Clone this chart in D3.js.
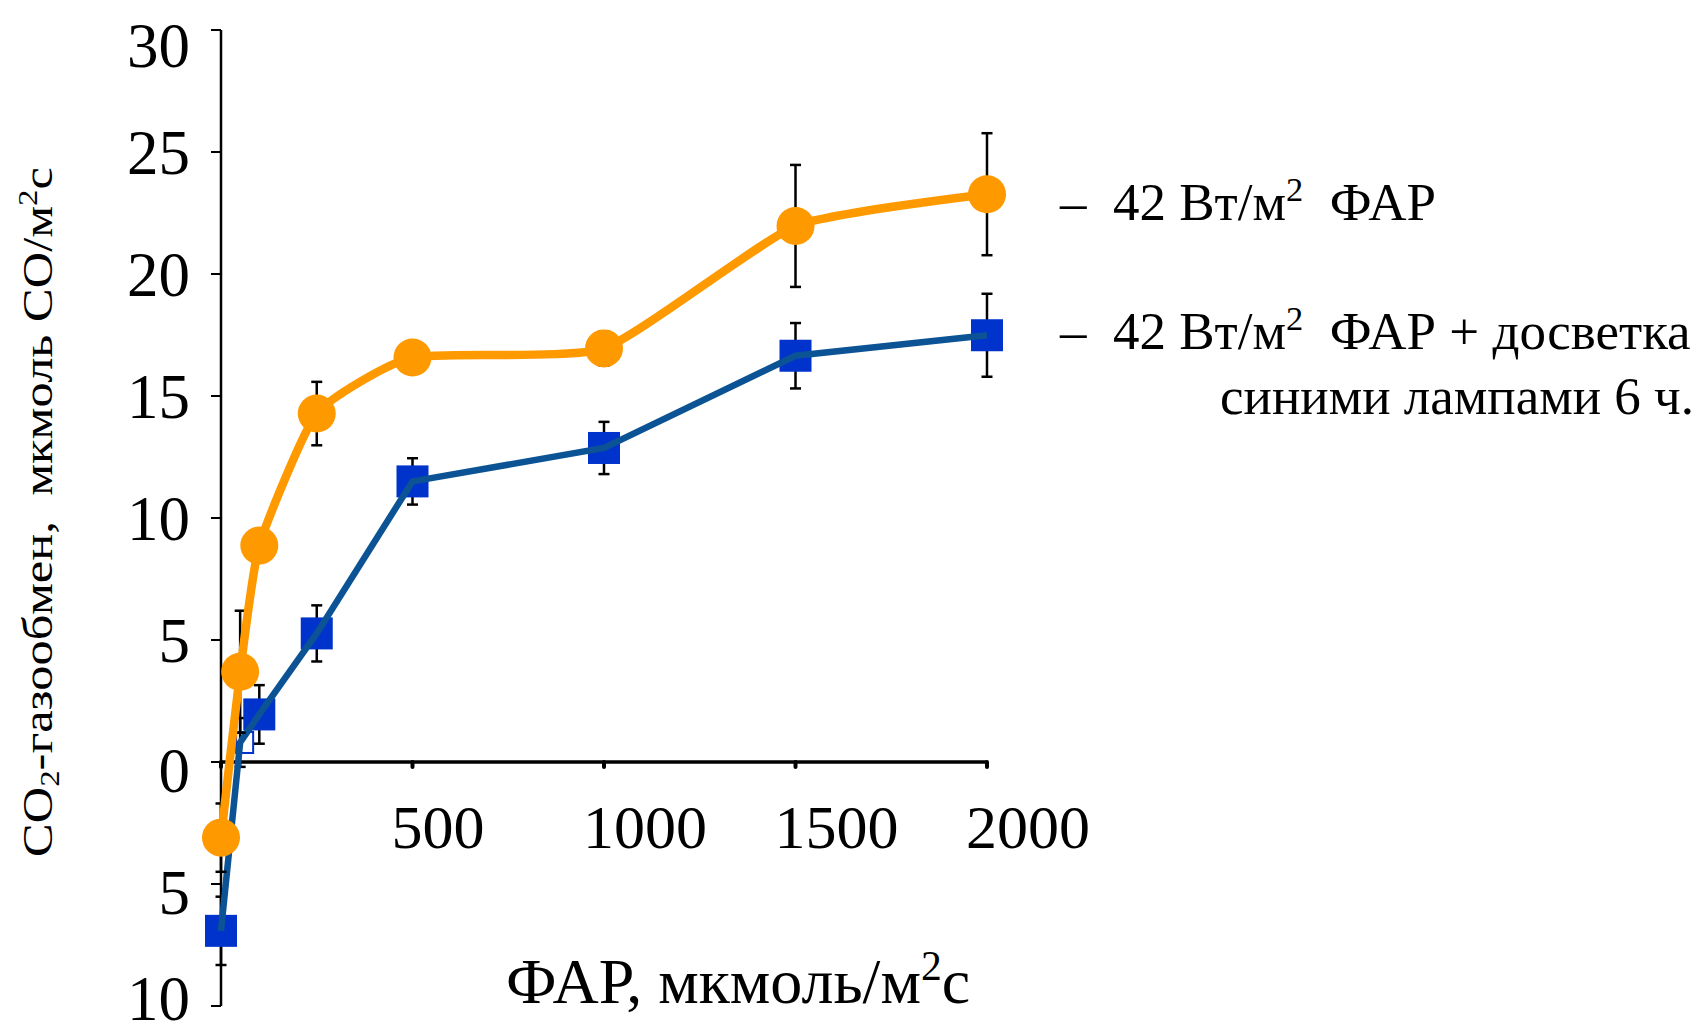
<!DOCTYPE html>
<html>
<head>
<meta charset="utf-8">
<script src="https://cdn.jsdelivr.net/npm/d3@7/dist/d3.min.js"></script>
<style>
  html, body { margin: 0; padding: 0; background: #fff; }
  svg text { font-family: "Liberation Serif", "Times New Roman", serif; fill: #000; white-space: pre; }
</style>
</head>
<body>
<svg id="chart" width="1700" height="1035"></svg>
<script>
// ФАР, мкмоль/м2с
const parX = [0, 50, 100, 250, 500, 1000, 1500, 2000];
// 42 Вт/м2 ФАР
const orangeVals = [-3.1, 3.7, 8.87, 14.28, 16.58, 16.95, 21.97, 23.27];
const orangeErr = [1.4, 2.5, 0.5, 1.3, 0.6, 0.7, 2.5, 2.5];
// 42 Вт/м2 ФАР + досветка синими лампами 6 ч.
const blueVals = [-6.92, 0.8, 1.95, 5.27, 11.5, 12.87, 16.65, 17.49];
const blueErr = [1.4, 1.0, 1.2, 1.15, 0.95, 1.07, 1.34, 1.7];
const blueMarker = ["sq", "open", "sq", "sq", "sq", "sq", "sq", "sq"];

const yTicks = [-10, -5, 0, 5, 10, 15, 20, 25, 30];
const xTicks = [0, 500, 1000, 1500, 2000];

const svg = d3.select("#chart");

let x = d3.scaleLinear().domain([0, 2000]).range([221, 987]);
let y = d3.scaleLinear().domain([-10, 30]).range([1006, 30]);

// ось Y
svg.append("line")
  .attr("x1", x(0)).attr("x2", x(0))
  .attr("y1", y(30)).attr("y2", y(-10))
  .attr("stroke", "#000").attr("stroke-width", 2.5);
svg.append("g").selectAll("line").data(yTicks).enter().append("line")
  .attr("x1", x(0) - 10).attr("x2", x(0))
  .attr("y1", d => y(d)).attr("y2", d => y(d))
  .attr("stroke", "#000").attr("stroke-width", 2);
svg.append("g").selectAll("text").data(yTicks).enter().append("text")
  .attr("x", 190)
  // подписи по краям поджаты внутрь, чтобы не обрезались
  .attr("y", d => Math.min(Math.max(y(d) + (d <= 0 ? 8 : 0), 45), 998))
  .attr("dy", "0.35em")
  .attr("text-anchor", "end")
  .attr("font-size", 63)
  .text(d => Math.abs(d));

// ось X (проходит через 0)
svg.append("line")
  .attr("x1", x(0)).attr("x2", x(2000))
  .attr("y1", y(0)).attr("y2", y(0))
  .attr("stroke", "#000").attr("stroke-width", 3.5);
svg.append("g").selectAll("line").data(xTicks).enter().append("line")
  .attr("x1", d => x(d)).attr("x2", d => x(d))
  .attr("y1", y(0)).attr("y2", y(0) + 5)
  .attr("stroke", "#000").attr("stroke-width", 4)
  .attr("stroke-linecap", "round");
svg.append("g").selectAll("text").data(xTicks.filter(d => d > 0)).enter().append("text")
  .attr("x", d => x(d) - 21)
  .attr("y", 848)
  .attr("text-anchor", "start")
  .attr("font-size", 62)
  .text(d => d);

// планки погрешностей
function errBars(vals, err) {
  let g = svg.append("g").attr("stroke", "#000").attr("stroke-width", 2.5);
  vals.forEach((v, i) => {
    let cx = x(parX[i]);
    g.append("line").attr("x1", cx).attr("x2", cx)
      .attr("y1", y(v + err[i])).attr("y2", y(v - err[i]));
    [v + err[i], v - err[i]].forEach(e => {
      g.append("line").attr("x1", cx - 5.5).attr("x2", cx + 5.5)
        .attr("y1", y(e)).attr("y2", y(e));
    });
  });
}

// синяя серия
errBars(blueVals, blueErr);
let blueData = parX.map((d, i) => ({ x: d, y: blueVals[i], m: blueMarker[i] }));
svg.append("g").selectAll("rect").data(blueData).enter().append("rect")
  .attr("x", d => (d.m === "sq" ? x(d.x) - 16 : x(d.x) - 4))
  .attr("y", d => (d.m === "sq" ? y(d.y) - 16 : y(d.y) - 10.5))
  .attr("width", d => (d.m === "sq" ? 32 : 17))
  .attr("height", d => (d.m === "sq" ? 32 : 21))
  .attr("fill", d => (d.m === "sq" ? "#0033cc" : "none"))
  .attr("stroke", d => (d.m === "sq" ? "none" : "#0033cc"))
  .attr("stroke-width", 2);
let blueLine = d3.line()
  .x(d => x(d.x))
  .y(d => y(d.y))
  .curve(d3.curveLinear);
svg.append("path")
  .datum(blueData)
  .attr("d", blueLine)
  .attr("fill", "none")
  .attr("stroke", "#0b5394")
  .attr("stroke-width", 6.5);

// оранжевая серия
errBars(orangeVals, orangeErr);
let orangeData = parX.map((d, i) => ({ x: d, y: orangeVals[i] }));
let orangeLine = d3.line()
  .x(d => x(d.x))
  .y(d => y(d.y))
  .curve(d3.curveCardinal.tension(0.5));
svg.append("path")
  .datum(orangeData)
  .attr("d", orangeLine)
  .attr("fill", "none")
  .attr("stroke", "#ff9900")
  .attr("stroke-width", 8.5);
svg.append("g").selectAll("circle").data(orangeData).enter().append("circle")
  .attr("cx", d => x(d.x))
  .attr("cy", d => y(d.y))
  .attr("r", 19)
  .attr("fill", "#ff9900");

// текст с верхними/нижними индексами
function supText(sel, parts) {
  let back = 0;
  parts.forEach(p => {
    let t = sel.append("tspan").text(p.t);
    if (p.sup) {
      t.attr("font-size", "0.65em").attr("dy", "-0.55em");
      back = 0.65 * 0.55;
    } else if (p.sub) {
      t.attr("font-size", "0.65em").attr("dy", "0.25em");
      back = -0.65 * 0.25;
    } else if (back !== 0) {
      t.attr("dy", back + "em");
      back = 0;
    }
  });
}

let xTitle = svg.append("text")
  .attr("x", 738).attr("y", 1003)
  .attr("text-anchor", "middle")
  .attr("font-size", 64);
supText(xTitle, [{ t: "ФАР, мкмоль/м" }, { t: "2", sup: true }, { t: "с" }]);

let yTitle = svg.append("text")
  .attr("text-anchor", "middle")
  .attr("font-size", 42);
supText(yTitle, [
  { t: "CO" }, { t: "2", sub: true }, { t: "-газообмен,  мкмоль CO/м" },
  { t: "2", sup: true }, { t: "с" }
]);
let yLen = yTitle.node().getBBox().width;
yTitle.attr("transform", "translate(52,512) rotate(-90) scale(" + 690 / yLen + ",1)");

// легенда
let leg1 = svg.append("text").attr("x", 1060).attr("y", 220).attr("font-size", 53);
supText(leg1, [{ t: "–  42 Вт/м" }, { t: "2", sup: true }, { t: "  ФАР" }]);
let leg2 = svg.append("text").attr("x", 1060).attr("y", 349).attr("font-size", 53);
supText(leg2, [{ t: "–  42 Вт/м" }, { t: "2", sup: true }, { t: "  ФАР + досветка" }]);
svg.append("text")
  .attr("x", 1694).attr("y", 414)
  .attr("text-anchor", "end")
  .attr("font-size", 53)
  .text("синими лампами 6 ч.");
</script>
</body>
</html>
